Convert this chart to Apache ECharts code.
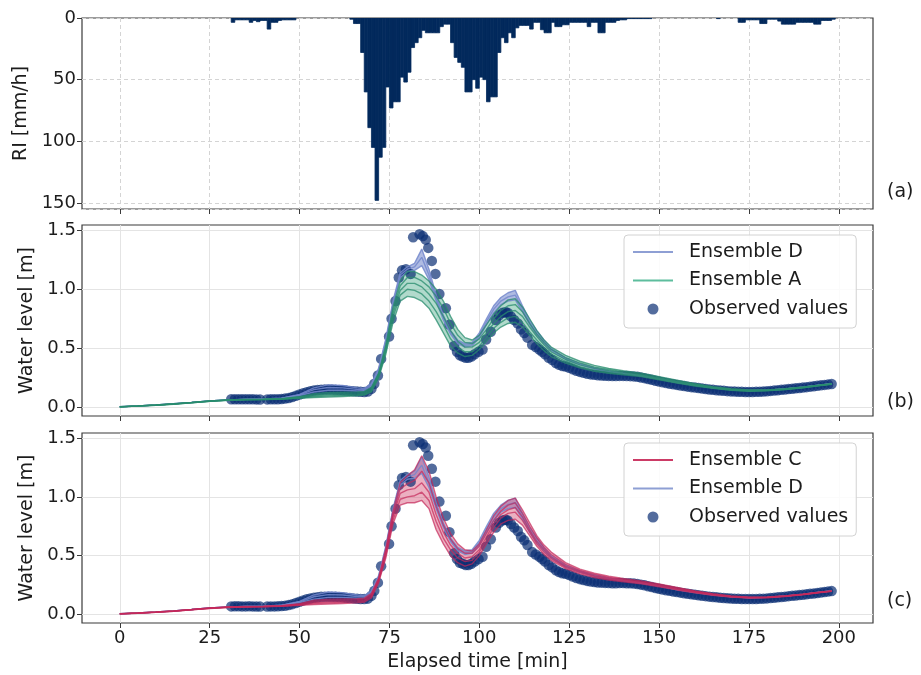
<!DOCTYPE html>
<html>
<head>
<meta charset="utf-8">
<script src="https://cdn.jsdelivr.net/npm/echarts@6/dist/echarts.min.js"></script>
<style>
  html, body { margin: 0; padding: 0; background: #ffffff; }
  #chart { width: 921px; height: 675px; }
</style>
</head>
<body>
<div id="chart"></div>
<script>
// ---------------- Rainfall intensity (mm/h), one value per minute from minute 31 ----------------
const rainFirstMinute = 31;
const rainIntensity = [
  3.5, 1.5, 1.5, 1.5, 1.5, 3.5, 2, 3, 2, 2,          // 31-40
  9, 3.5, 3.5, 2, 1.5, 1.5, 1.5, 1.5, 0, 0,          // 41-50
  0, 0, 0, 0, 0, 0, 0, 0, 0, 0,                      // 51-60
  0, 0, 0, 1, 4.5, 4.5, 28, 60, 89, 105,             // 61-70
  148, 113, 105, 56, 73, 68, 68, 48, 52, 44,         // 71-80
  24, 20, 16, 10, 12, 12, 12, 12, 7, 5,              // 81-90
  5, 20, 32, 36, 40, 60, 60, 50, 57, 48,             // 91-100
  50, 68, 64, 64, 28, 16, 20, 12, 16, 8,             // 101-110
  6, 6, 6, 9, 3.5, 3.5, 9.5, 12, 12, 3.5,            // 111-120
  7, 7, 5.5, 5.5, 3.5, 3.5, 3.5, 3.5, 3.5, 7,        // 121-130
  3.5, 3.5, 12, 12, 3.5, 3.5, 3.5, 2, 1.5, 1.5,      // 131-140
  0.5, 0.5, 0.5, 0.5, 0.5, 0.5, 0.5, 0, 0, 0,        // 141-150
  0, 0, 0, 0, 0, 0, 0, 0, 0, 0,                      // 151-160
  0, 0, 0, 0, 0, 0.5, 0, 0, 0, 0,                    // 161-170
  0, 3.5, 3.5, 1.5, 1.5, 1.5, 1.5, 4.5, 4.5, 1,      // 171-180
  1, 1, 2.5, 5, 5, 5, 5, 3.5, 3.5, 3.5,              // 181-190
  3.5, 3.5, 5, 5, 2, 2, 2, 1                         // 191-198
];

// ---------------- Simulated water level ensembles (m) ----------------
const simTime = [0, 5, 10, 15, 20, 25, 30, 35, 40, 45, 50,
  54, 58, 62, 66,
  68, 70, 72, 74, 76, 78, 80, 82, 84, 86, 88, 90, 92, 94, 96, 98, 100, 102, 104, 106, 108, 110, 112, 114, 116, 118, 120,
  124, 128, 132, 136, 140,
  145, 150, 155, 160, 165, 170, 175, 180, 185, 190, 195, 198];

const ensA1 = [0.005,0.012,0.02,0.03,0.042,0.055,0.063,0.067,0.069,0.074,0.09, 0.115,0.125,0.128,0.13,
  0.135,0.17,0.29,0.53,0.85,1.07,1.15,1.15,1.12,1.07,1.0,0.9,0.77,0.66,0.59,0.57,0.61,0.7,0.79,0.86,0.91,0.92,0.85,0.75,0.65,0.57,0.51,
  0.44,0.39,0.355,0.33,0.31, 0.29,0.26,0.23,0.2,0.175,0.157,0.147,0.148,0.157,0.172,0.19,0.2];
const ensA2 = [0.005,0.012,0.02,0.029,0.041,0.054,0.062,0.066,0.068,0.073,0.087, 0.105,0.115,0.118,0.12,
  0.125,0.16,0.28,0.51,0.82,1.03,1.1,1.1,1.07,1.02,0.94,0.84,0.71,0.61,0.55,0.54,0.58,0.66,0.75,0.82,0.86,0.87,0.81,0.71,0.62,0.55,0.49,
  0.42,0.375,0.34,0.32,0.3, 0.28,0.25,0.222,0.195,0.17,0.153,0.144,0.146,0.155,0.17,0.188,0.198];
const ensA3 = [0.004,0.011,0.019,0.028,0.04,0.052,0.061,0.065,0.067,0.071,0.083, 0.098,0.105,0.108,0.112,
  0.117,0.15,0.27,0.49,0.79,0.99,1.05,1.05,1.02,0.96,0.88,0.77,0.65,0.56,0.51,0.51,0.55,0.63,0.71,0.77,0.81,0.82,0.77,0.68,0.6,0.53,0.47,
  0.405,0.36,0.33,0.31,0.292, 0.275,0.245,0.217,0.19,0.167,0.15,0.141,0.144,0.153,0.168,0.187,0.197];
const ensA4 = [0.004,0.01,0.018,0.027,0.039,0.051,0.06,0.064,0.066,0.07,0.08, 0.09,0.097,0.1,0.105,
  0.11,0.14,0.26,0.47,0.76,0.95,1.0,0.99,0.96,0.9,0.81,0.7,0.58,0.51,0.47,0.47,0.52,0.59,0.67,0.72,0.76,0.77,0.72,0.64,0.57,0.505,0.45,
  0.39,0.345,0.315,0.297,0.283, 0.267,0.238,0.21,0.185,0.163,0.147,0.138,0.142,0.151,0.166,0.186,0.196];
const ensA5 = [0.004,0.01,0.017,0.026,0.038,0.05,0.059,0.063,0.065,0.068,0.077, 0.083,0.088,0.092,0.098,
  0.103,0.13,0.25,0.45,0.72,0.9,0.94,0.93,0.9,0.84,0.74,0.63,0.52,0.46,0.43,0.44,0.49,0.56,0.63,0.68,0.71,0.72,0.68,0.61,0.54,0.48,0.43,
  0.375,0.335,0.305,0.288,0.276, 0.26,0.232,0.205,0.18,0.16,0.145,0.136,0.14,0.15,0.165,0.185,0.195];

const ensD1 = [0.005,0.012,0.02,0.03,0.042,0.055,0.063,0.068,0.07,0.078,0.11, 0.165,0.19,0.185,0.165,
  0.16,0.2,0.33,0.58,0.9,1.14,1.19,1.22,1.34,1.17,0.95,0.78,0.65,0.57,0.54,0.55,0.63,0.75,0.86,0.93,0.97,0.99,0.86,0.74,0.65,0.57,0.5,
  0.42,0.37,0.335,0.31,0.29, 0.27,0.245,0.215,0.19,0.168,0.152,0.143,0.146,0.156,0.171,0.19,0.2];
const ensD2 = [0.005,0.012,0.02,0.03,0.042,0.055,0.063,0.067,0.07,0.077,0.105, 0.15,0.168,0.165,0.152,
  0.15,0.19,0.32,0.565,0.88,1.12,1.17,1.19,1.27,1.12,0.92,0.76,0.635,0.555,0.525,0.535,0.61,0.725,0.83,0.9,0.935,0.95,0.835,0.72,0.63,0.555,0.49,
  0.412,0.365,0.33,0.306,0.288, 0.268,0.242,0.212,0.188,0.166,0.151,0.142,0.145,0.155,0.17,0.19,0.2];
const ensD3 = [0.004,0.011,0.019,0.029,0.041,0.054,0.062,0.067,0.069,0.075,0.1, 0.13,0.145,0.145,0.138,
  0.14,0.18,0.31,0.55,0.86,1.1,1.15,1.16,1.2,1.08,0.9,0.74,0.62,0.54,0.51,0.52,0.59,0.7,0.8,0.87,0.9,0.91,0.81,0.7,0.61,0.54,0.48,
  0.405,0.36,0.325,0.302,0.285, 0.265,0.24,0.21,0.186,0.165,0.15,0.141,0.145,0.155,0.17,0.189,0.199];

const ensC1 = [0.005,0.012,0.02,0.03,0.042,0.055,0.063,0.067,0.069,0.074,0.09, 0.12,0.13,0.132,0.133,
  0.138,0.18,0.31,0.56,0.88,1.12,1.18,1.23,1.35,1.22,1.0,0.82,0.69,0.6,0.55,0.54,0.6,0.72,0.84,0.92,0.97,0.99,0.89,0.78,0.67,0.59,0.53,
  0.44,0.385,0.35,0.325,0.305, 0.285,0.26,0.23,0.2,0.175,0.157,0.147,0.148,0.157,0.172,0.19,0.2];
const ensC2 = [0.005,0.012,0.02,0.029,0.041,0.054,0.062,0.066,0.068,0.073,0.087, 0.11,0.12,0.122,0.124,
  0.13,0.17,0.3,0.54,0.85,1.07,1.11,1.14,1.22,1.12,0.92,0.76,0.64,0.56,0.52,0.52,0.58,0.69,0.8,0.88,0.93,0.95,0.86,0.75,0.65,0.57,0.51,
  0.425,0.375,0.34,0.315,0.297, 0.278,0.252,0.224,0.196,0.172,0.154,0.145,0.147,0.156,0.171,0.189,0.199];
const ensC3 = [0.004,0.011,0.019,0.028,0.04,0.052,0.061,0.065,0.067,0.071,0.083, 0.1,0.108,0.112,0.115,
  0.12,0.16,0.29,0.52,0.83,1.03,1.06,1.07,1.12,1.04,0.85,0.7,0.59,0.52,0.48,0.49,0.55,0.66,0.77,0.85,0.89,0.91,0.83,0.72,0.62,0.55,0.49,
  0.41,0.365,0.33,0.307,0.29, 0.272,0.246,0.218,0.192,0.169,0.152,0.143,0.145,0.155,0.17,0.188,0.198];
const ensC4 = [0.004,0.01,0.018,0.027,0.039,0.051,0.06,0.064,0.066,0.07,0.08, 0.092,0.098,0.102,0.106,
  0.112,0.15,0.28,0.5,0.8,0.98,1.0,1.01,1.04,0.97,0.79,0.65,0.55,0.48,0.45,0.46,0.53,0.63,0.74,0.82,0.86,0.87,0.8,0.7,0.6,0.53,0.475,
  0.4,0.355,0.322,0.3,0.284, 0.266,0.24,0.213,0.188,0.166,0.15,0.141,0.144,0.154,0.169,0.187,0.197];
const ensC5 = [0.004,0.01,0.017,0.026,0.038,0.05,0.059,0.063,0.065,0.068,0.077, 0.083,0.088,0.092,0.098,
  0.103,0.14,0.27,0.48,0.77,0.93,0.95,0.95,0.97,0.9,0.72,0.6,0.5,0.44,0.41,0.43,0.5,0.6,0.7,0.77,0.8,0.81,0.76,0.67,0.58,0.51,0.46,
  0.39,0.345,0.313,0.292,0.277, 0.26,0.234,0.208,0.184,0.162,0.147,0.139,0.142,0.152,0.167,0.186,0.196];

// ---------------- Observed water level (m) ----------------
const obsTime = [31,32,33,34,35,36,37,38,39,
  41,42,43,44,45,46,47,48,49,50,51,52,53,54,55,56,57,58,59,60,61,62,63,64,65,66,67,68,69,70,
  70.8,71.8,72.7,74.9,75.6,76.7,77.6,78.5,79.6,80.9,81.6,83.4,84.3,85.1,85.8,86.8,87.8,88.9,90.7,91.7,
  93.0,93.8,94.6,95.4,96.2,97.0,97.8,98.7,99.8,100.9,101.9,103.2,104.6,105.5,106.5,107.3,107.9,108.8,109.7,110.7,
  111.6,112.5,113.4,114.7,115.7,116.7,117.5,118.3,119.3,120.3,121.3,122.2,123.1,
  124,125,126,127,128,129,130,131,132,133,134,135,136,137,138,139,140,141,142,143,144,145,146,147,148,149,150,
  151,152,153,154,155,156,157,158,159,160,161,162,163,164,165,166,167,168,169,170,171,172,173,174,175,
  176,177,178,179,180,181,182,183,184,185,186,187,188,189,190,191,192,193,194,195,196,197,198];
const obsLevel = [0.068,0.069,0.069,0.068,0.068,0.069,0.068,0.067,0.066,
  0.067,0.068,0.068,0.069,0.071,0.074,0.079,0.087,0.097,0.108,0.119,0.128,0.136,0.142,0.146,0.149,0.151,0.151,0.15,0.149,0.147,0.145,0.142,0.139,0.136,0.133,0.131,0.13,0.134,0.158,
  0.2,0.27,0.41,0.6,0.75,0.9,1.1,1.16,1.17,1.13,1.44,1.465,1.45,1.42,1.35,1.24,1.13,0.96,0.84,0.7,
  0.52,0.47,0.44,0.43,0.42,0.42,0.43,0.45,0.47,0.49,0.575,0.64,0.74,0.78,0.8,0.805,0.8,0.77,0.74,0.71,
  0.66,0.63,0.59,0.53,0.51,0.49,0.47,0.45,0.42,0.4,0.375,0.36,0.35,
  0.345,0.335,0.322,0.31,0.3,0.292,0.285,0.279,0.275,0.272,0.27,0.268,0.266,0.265,0.265,0.266,0.266,0.265,0.264,0.262,0.258,0.253,0.247,0.24,0.233,0.225,0.218,
  0.212,0.206,0.2,0.195,0.19,0.185,0.18,0.175,0.171,0.167,0.163,0.159,0.155,0.151,0.148,0.145,0.142,0.14,0.137,0.135,0.133,0.132,0.131,0.13,0.13,
  0.13,0.131,0.132,0.134,0.136,0.139,0.142,0.145,0.148,0.151,0.155,0.158,0.161,0.164,0.167,0.171,0.175,0.178,0.182,0.186,0.19,0.194,0.198];

const timeTicks = [0, 25, 50, 75, 100, 125, 150, 175, 200];
const levelTicks = [0, 0.5, 1.0, 1.5];

// ---------------- styling ----------------
const FONT = 'DejaVu Sans';
const TXT = '#1c1c1c';
const FRAME = '#3a3a3a';
const GRID_L = 82, GRID_W = 791;
const OBS_COLOR = 'rgba(10,46,116,0.7)';

const palette = {
  A: { line: 'rgba(40,140,110,0.75)', fill: 'rgba(70,168,134,0.42)', legend: '#5dbd9d' },
  D: { line: 'rgba(116,136,204,0.85)', fill: 'rgba(132,150,210,0.65)', legend: '#8e9fd4' },
  C: { line: 'rgba(196,40,90,0.7)', fill: 'rgba(212,80,118,0.45)', legend: '#cc3b66' }
};

function timeAxis(gridIndex, withLabels) {
  const ax = {
    type: 'value', gridIndex, min: -10.5, max: 209.5,
    axisLine: { show: false, onZero: false },
    axisTick: { show: true, customValues: timeTicks, length: 5, lineStyle: { color: FRAME, width: 1 } },
    axisLabel: { show: withLabels, customValues: timeTicks, fontFamily: FONT, fontSize: 18, color: TXT, margin: 6 },
    splitLine: { show: true, lineStyle: { color: gridIndex === 0 ? '#d4d4d4' : '#e4e4e4', width: 1, type: gridIndex === 0 ? [4, 3] : 'solid' } }
  };
  if (withLabels) {
    ax.name = 'Elapsed time [min]';
    ax.nameLocation = 'middle';
    ax.nameGap = 30;
    ax.nameTextStyle = { fontFamily: FONT, fontSize: 19, color: TXT };
  }
  return ax;
}

function levelAxis(gridIndex) {
  return {
    type: 'value', gridIndex, min: -0.0735, max: 1.544,
    axisLine: { show: false, onZero: false },
    axisTick: { show: true, customValues: levelTicks, length: 5, lineStyle: { color: FRAME } },
    axisLabel: { customValues: levelTicks, formatter: v => v.toFixed(1), fontFamily: FONT, fontSize: 18, color: TXT, margin: 6 },
    splitLine: { show: true, lineStyle: { color: '#e4e4e4', width: 1 } },
    name: 'Water level [m]', nameLocation: 'middle', nameGap: 40,
    nameTextStyle: { fontFamily: FONT, fontSize: 19, color: TXT }
  };
}

// filled envelope between the lowest and highest member of an ensemble
function envelope(members, fill, gridIndex) {
  const lo = simTime.map((t, i) => Math.min(...members.map(m => m[i])));
  const hi = simTime.map((t, i) => Math.max(...members.map(m => m[i])));
  return {
    type: 'custom', xAxisIndex: gridIndex, yAxisIndex: gridIndex, silent: true,
    data: [[simTime[0], lo[0]]],
    clip: true,
    renderItem(params, api) {
      const pts = [];
      for (let i = 0; i < simTime.length; i++) pts.push(api.coord([simTime[i], hi[i]]));
      for (let i = simTime.length - 1; i >= 0; i--) pts.push(api.coord([simTime[i], lo[i]]));
      return { type: 'polygon', shape: { points: pts }, style: { fill, stroke: null } };
    }
  };
}

function memberLines(members, name, color, gridIndex) {
  return members.map(m => ({
    type: 'line', name, xAxisIndex: gridIndex, yAxisIndex: gridIndex,
    data: simTime.map((t, i) => [t, m[i]]),
    symbol: 'none', showSymbol: false, silent: true,
    lineStyle: { color, width: 1.4 }, itemStyle: { color },
    emphasis: { disabled: true }
  }));
}

function observed(gridIndex) {
  return {
    type: 'scatter', name: 'Observed values', xAxisIndex: gridIndex, yAxisIndex: gridIndex,
    data: obsTime.map((t, i) => [t, obsLevel[i]]),
    symbol: 'circle', symbolSize: 10.5, silent: true,
    itemStyle: { color: OBS_COLOR, opacity: 1 }
  };
}

function legendBox(top, entries) {
  return {
    orient: 'vertical', left: 624, top, selectedMode: false,
    itemWidth: 40, itemHeight: 11, itemGap: 8.5,
    padding: [7, 8, 9, 8],
    backgroundColor: 'rgba(255,255,255,0.85)', borderColor: '#d2d2d2', borderWidth: 1, borderRadius: 4,
    textStyle: { fontFamily: FONT, fontSize: 19, color: TXT, lineHeight: 20, padding: [0, 0, 0, 11] },
    data: entries.map(e => e.line
      ? { name: e.name, lineStyle: { color: e.line, width: 2, opacity: 1 }, itemStyle: { opacity: 0 } }
      : { name: e.name, itemStyle: { color: 'rgba(10,46,116,0.7)', opacity: 1 } })
  };
}

const rainSeries = {
  type: 'custom', xAxisIndex: 0, yAxisIndex: 0, silent: true, clip: true,
  data: rainIntensity.map((v, i) => [rainFirstMinute + i, v]),
  renderItem(params, api) {
    const t = api.value(0), v = api.value(1);
    if (!v) return null;
    const a = api.coord([t, 0]);
    const b = api.coord([t + 1, v]);
    return { type: 'rect', shape: { x: a[0], y: Math.min(a[1], b[1]), width: b[0] - a[0], height: Math.abs(b[1] - a[1]) },
             style: { fill: '#02295c', stroke: '#02295c', lineWidth: 0.8 } };
  }
};

const chart = echarts.init(document.getElementById('chart'), null, { renderer: 'canvas' });
chart.setOption({
  animation: false,
  backgroundColor: '#ffffff',
  textStyle: { fontFamily: FONT },
  grid: [
    { left: GRID_L, top: 18, width: GRID_W, height: 191, show: true, borderColor: FRAME, borderWidth: 1.2, backgroundColor: 'transparent' },
    { left: GRID_L, top: 225, width: GRID_W, height: 191, show: true, borderColor: FRAME, borderWidth: 1.2, backgroundColor: 'transparent' },
    { left: GRID_L, top: 433, width: GRID_W, height: 190, show: true, borderColor: FRAME, borderWidth: 1.2, backgroundColor: 'transparent' }
  ],
  xAxis: [timeAxis(0, false), timeAxis(1, false), timeAxis(2, true)],
  yAxis: [
    {
      type: 'value', gridIndex: 0, inverse: true, min: 0, max: 155, interval: 50,
      axisLine: { show: false, onZero: false },
      axisTick: { show: true, length: 5, lineStyle: { color: FRAME } },
      axisLabel: { fontFamily: FONT, fontSize: 18, color: TXT, margin: 6 },
      splitLine: { show: true, lineStyle: { color: '#d4d4d4', type: [4, 3] } },
      name: 'RI [mm/h]', nameLocation: 'middle', nameGap: 45,
      nameTextStyle: { fontFamily: FONT, fontSize: 19, color: TXT }
    },
    levelAxis(1),
    levelAxis(2)
  ],
  legend: [
    legendBox(235, [{ name: 'Ensemble D', line: palette.D.legend }, { name: 'Ensemble A', line: palette.A.legend }, { name: 'Observed values' }]),
    legendBox(443, [{ name: 'Ensemble C', line: palette.C.legend }, { name: 'Ensemble D', line: palette.D.legend }, { name: 'Observed values' }])
  ],
  graphic: [
    { type: 'text', left: 887, top: 183, style: { text: '(a)', font: '19px "DejaVu Sans"', fill: TXT } },
    { type: 'text', left: 887, top: 393, style: { text: '(b)', font: '19px "DejaVu Sans"', fill: TXT } },
    { type: 'text', left: 887, top: 592, style: { text: '(c)', font: '19px "DejaVu Sans"', fill: TXT } }
  ],
  series: [
    rainSeries,
    // panel (b)
    envelope([ensD1, ensD2, ensD3], palette.D.fill, 1),
    ...memberLines([ensD1, ensD2, ensD3], 'Ensemble D', palette.D.line, 1),
    envelope([ensA1, ensA2, ensA3, ensA4, ensA5], palette.A.fill, 1),
    ...memberLines([ensA1, ensA2, ensA3, ensA4, ensA5], 'Ensemble A', palette.A.line, 1),
    observed(1),
    // panel (c)
    envelope([ensD1, ensD2, ensD3], palette.D.fill, 2),
    ...memberLines([ensD1, ensD2, ensD3], 'Ensemble D', palette.D.line, 2),
    envelope([ensC1, ensC2, ensC3, ensC4, ensC5], palette.C.fill, 2),
    ...memberLines([ensC1, ensC2, ensC3, ensC4, ensC5], 'Ensemble C', palette.C.line, 2),
    observed(2)
  ]
});
</script>
</body>
</html>
